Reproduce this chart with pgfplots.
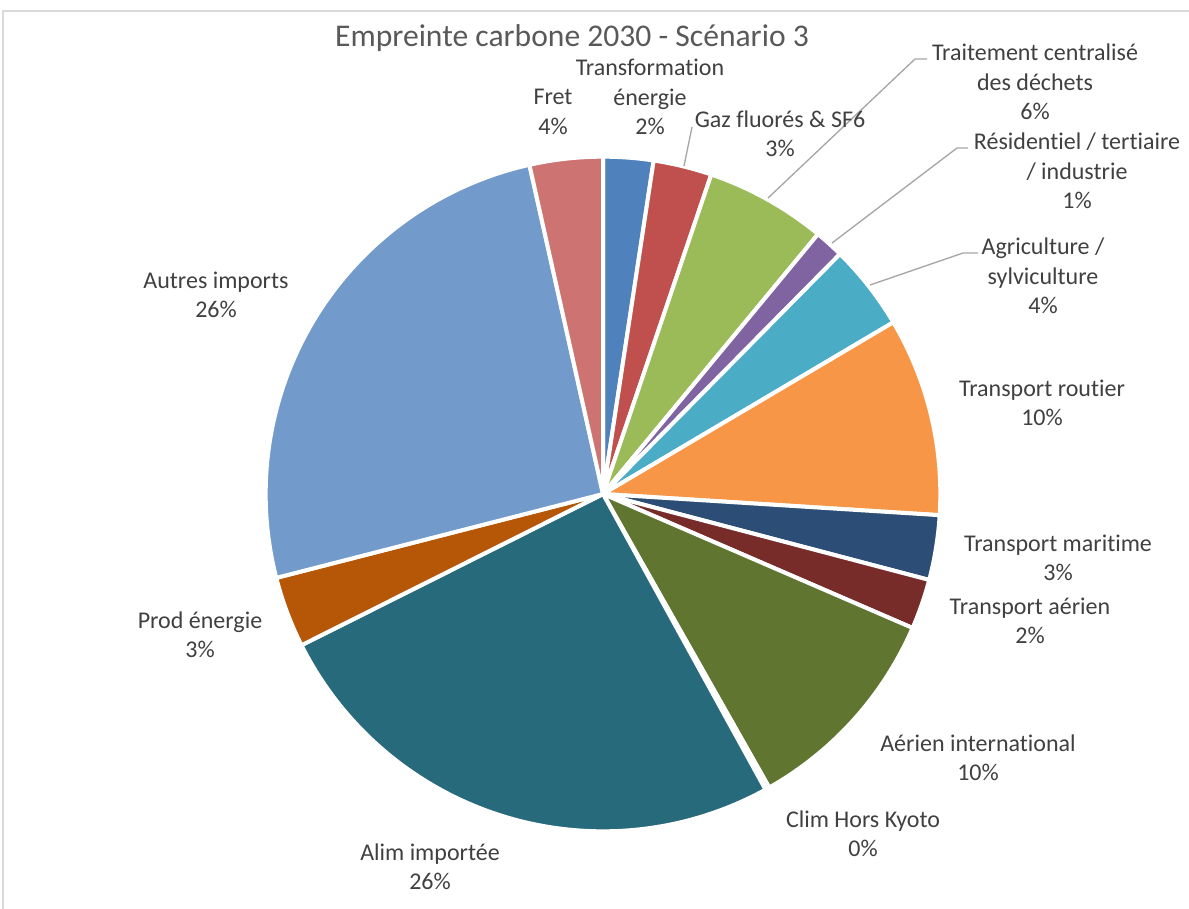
\documentclass[border=0pt]{standalone}
\usepackage{pgfplots}
\usepackage{pgfplotstable}
\pgfplotsset{compat=1.18}
\usepackage{fontspec}
\setmainfont{Carlito}[Ligatures=NoCommon]
\definecolor{s1}{HTML}{4F81BD}
\definecolor{s2}{HTML}{C0504D}
\definecolor{s3}{HTML}{9BBB59}
\definecolor{s4}{HTML}{8064A2}
\definecolor{s5}{HTML}{4BACC6}
\definecolor{s6}{HTML}{F79646}
\definecolor{s7}{HTML}{2C4D75}
\definecolor{s8}{HTML}{772C2A}
\definecolor{s9}{HTML}{5F7530}
\definecolor{s10}{HTML}{4D3B62}
\definecolor{s11}{HTML}{276A7C}
\definecolor{s12}{HTML}{B65708}
\definecolor{s13}{HTML}{729ACA}
\definecolor{s14}{HTML}{CD7371}
\definecolor{lab}{HTML}{404040}
\definecolor{ttl}{HTML}{595959}
\definecolor{lead}{HTML}{A6A6A6}
\definecolor{frame}{HTML}{D9D9D9}
\pgfplotstableread{
value col
2.4 s1
2.8 s2
5.8 s3
1.4 s4
4.1 s5
9.5 s6
3.1 s7
2.4 s8
10.3 s9
0.2 s10
25.6 s11
3.4 s12
25.5 s13
3.5 s14
}\piedata
\newcommand{\lbl}{\fontsize{18pt}{22.1pt}\selectfont}
\begin{document}
\begin{tikzpicture}
\begin{axis}[hide axis, scale only axis, width=891.75pt, height=681pt,
  xmin=0, xmax=1189, ymin=0, ymax=908, y dir=reverse, clip=false]
\pgfplotsextra{
  \xdef\cum{0}
  \foreach \i in {0,...,13}{
    \pgfplotstablegetelem{\i}{value}\of\piedata \let\v\pgfplotsretval
    \pgfplotstablegetelem{\i}{col}\of\piedata \let\c\pgfplotsretval
    \pgfmathsetmacro\a{90-3.6*\cum}
    \pgfmathsetmacro\b{90-3.6*(\cum+\v)}
    \filldraw[fill=\c, draw=white, line width=3pt, line join=round]
      (axis cs:603,494) -- ++(\a:253pt) arc[start angle=\a, end angle=\b, radius=253pt] -- cycle;
    \pgfmathsetmacro\n{\cum+\v}\xdef\cum{\n}
  }
}
% frame
\draw[frame, line width=0.8pt] (axis cs:3,1000) -- (axis cs:3,11) -- (axis cs:1300,11);
% leader lines
\draw[lead, line width=1pt] (axis cs:692,127) -- (axis cs:684,166);
\draw[lead, line width=1pt] (axis cs:927,59) -- (axis cs:915,59) -- (axis cs:768,198);
\draw[lead, line width=1pt] (axis cs:968,148) -- (axis cs:957,148) -- (axis cs:832,243);
\draw[lead, line width=1pt] (axis cs:978,253) -- (axis cs:963,253) -- (axis cs:870,285);
% title
\node[text=ttl, font=\fontsize{23.7pt}{28pt}\selectfont] at (axis cs:572,38) {Empreinte carbone 2030 - Scénario 3};
% labels
\tikzset{pl/.style={text=lab, font=\lbl, align=center, inner sep=0pt}}
\node[pl] at (axis cs:650,97) {Transformation\\énergie\\2\%};
\node[pl] at (axis cs:553,112) {Fret\\4\%};
\node[pl] at (axis cs:780,134) {Gaz fluorés \& SF6\\3\%};
\node[pl] at (axis cs:1035,82) {Traitement centralisé\\des déchets\\6\%};
\node[pl] at (axis cs:1077,171) {Résidentiel / tertiaire\\/ industrie\\1\%};
\node[pl] at (axis cs:1043,276) {Agriculture /\\sylviculture\\4\%};
\node[pl] at (axis cs:1042,403) {Transport routier\\10\%};
\node[pl] at (axis cs:1058,558) {Transport maritime\\3\%};
\node[pl] at (axis cs:1030,621) {Transport aérien\\2\%};
\node[pl] at (axis cs:978,758) {Aérien international\\10\%};
\node[pl] at (axis cs:863,834) {Clim Hors Kyoto\\0\%};
\node[pl] at (axis cs:430,867) {Alim importée\\26\%};
\node[pl] at (axis cs:200,635) {Prod énergie\\3\%};
\node[pl] at (axis cs:216,295) {Autres imports\\26\%};
\coordinate (ll) at (axis cs:0,908);
\coordinate (ur) at (axis cs:1189,0);
\end{axis}
\pgfresetboundingbox
\path[use as bounding box] (ll) rectangle (ur);
\end{tikzpicture}
\end{document}
